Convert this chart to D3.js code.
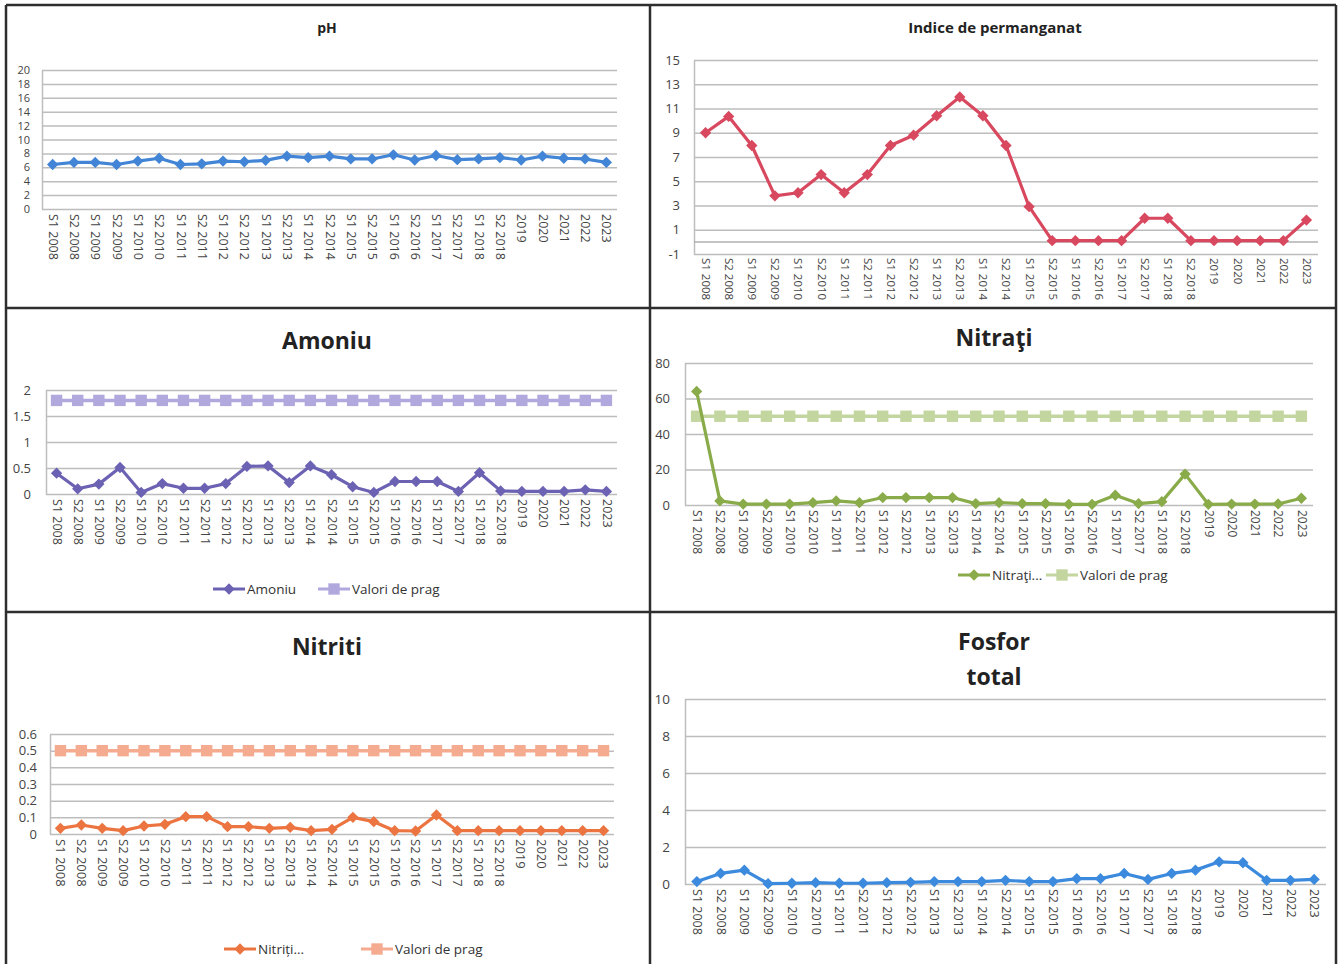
<!DOCTYPE html>
<html>
<head>
<meta charset="utf-8">
<script src="https://cdn.jsdelivr.net/npm/d3@7"></script>
<style>
  body { margin: 0; background: #fff; }
  svg { display: block; font-family: "Open Sans", sans-serif; }
</style>
</head>
<body>
<div id="chart"></div>
<script>
// Categories (semesters / years)
var categories = ["S1 2008", "S2 2008", "S1 2009", "S2 2009", "S1 2010", "S2 2010",
    "S1 2011", "S2 2011", "S1 2012", "S2 2012", "S1 2013", "S2 2013", "S1 2014", "S2 2014",
    "S1 2015", "S2 2015", "S1 2016", "S2 2016", "S1 2017", "S2 2017", "S1 2018", "S2 2018",
    "2019", "2020", "2021", "2022", "2023"];

// Series values
var phValues = [6.4, 6.7, 6.7, 6.4, 6.9, 7.3, 6.4, 6.5, 6.9, 6.8, 7.0, 7.6, 7.4, 7.6,
    7.2, 7.2, 7.8, 7.05, 7.7, 7.1, 7.2, 7.4, 7.05, 7.6, 7.3, 7.2, 6.7];
var permanganatValues = [9.0, 10.35, 7.95, 3.8, 4.05, 5.55, 4.05, 5.55, 7.95, 8.8, 10.4, 11.95,
    10.4, 7.95, 2.9, 0.1, 0.1, 0.1, 0.1, 1.95, 1.95, 0.1, 0.1, 0.1, 0.1, 0.1, 1.8];
var amoniuValues = [0.4, 0.1, 0.19, 0.51, 0.03, 0.2, 0.11, 0.11, 0.2, 0.53, 0.54, 0.22,
    0.54, 0.37, 0.14, 0.03, 0.24, 0.24, 0.24, 0.05, 0.41, 0.06, 0.05, 0.05, 0.05, 0.08, 0.05];
var amoniuPrag = [1.8, 1.8, 1.8, 1.8, 1.8, 1.8, 1.8, 1.8, 1.8, 1.8, 1.8, 1.8, 1.8, 1.8,
    1.8, 1.8, 1.8, 1.8, 1.8, 1.8, 1.8, 1.8, 1.8, 1.8, 1.8, 1.8, 1.8];
var nitratiValues = [64, 2.3, 0.5, 0.5, 0.5, 1.3, 2.3, 1.3, 4.2, 4.2, 4.2, 4.2, 0.8, 1.3,
    0.8, 0.8, 0.4, 0.4, 5.5, 0.8, 1.9, 17.4, 0.4, 0.5, 0.5, 0.6, 3.8];
var nitratiPrag = [50, 50, 50, 50, 50, 50, 50, 50, 50, 50, 50, 50, 50, 50,
    50, 50, 50, 50, 50, 50, 50, 50, 50, 50, 50, 50, 50];
var nitritiValues = [0.034, 0.054, 0.034, 0.02, 0.048, 0.058, 0.104, 0.104, 0.044, 0.044,
    0.034, 0.04, 0.02, 0.028, 0.1, 0.074, 0.02, 0.018, 0.114, 0.02, 0.02, 0.02,
    0.02, 0.02, 0.02, 0.02, 0.02];
var nitritiPrag = [0.5, 0.5, 0.5, 0.5, 0.5, 0.5, 0.5, 0.5, 0.5, 0.5, 0.5, 0.5, 0.5, 0.5,
    0.5, 0.5, 0.5, 0.5, 0.5, 0.5, 0.5, 0.5, 0.5, 0.5, 0.5, 0.5, 0.5];
var fosforValues = [0.13, 0.57, 0.75, 0.02, 0.04, 0.07, 0.04, 0.04, 0.07, 0.09, 0.13, 0.13,
    0.13, 0.2, 0.13, 0.13, 0.29, 0.29, 0.57, 0.25, 0.57, 0.75, 1.2, 1.15, 0.2, 0.2, 0.25];

// Tick labels
var phTicks = [0, 2, 4, 6, 8, 10, 12, 14, 16, 18, 20];
var permanganatTicks = [-1, 1, 3, 5, 7, 9, 11, 13, 15];
var amoniuTicks = [0, 0.5, 1, 1.5, 2];
var nitratiTicks = [0, 20, 40, 60, 80];
var nitritiTicks = [0, 0.1, 0.2, 0.3, 0.4, 0.5, 0.6];
var fosforTicks = [0, 2, 4, 6, 8, 10];

var svg = d3.select("#chart").append("svg")
    .attr("width", 1339)
    .attr("height", 964);

// Diamond = rotated square, like the spreadsheet markers
var diamond = d3.symbol().type(d3.symbolSquare).size(64);
var square = d3.symbol().type(d3.symbolSquare).size(130);

function drawPanel(o) {
    var g = svg.append("g");

    var x = d3.scalePoint().domain(categories).range([o.left, o.right]).padding(0.5);
    var y = d3.scaleLinear().domain(o.domain).range([o.bottom, o.top]);

    // Title
    o.title.forEach(function (t, i) {
        g.append("text")
            .attr("x", o.titleX)
            .attr("y", o.titleY + i * o.titleGap)
            .attr("dy", "0.35em")
            .attr("text-anchor", "middle")
            .attr("font-weight", "bold")
            .attr("font-size", o.titleSize)
            .attr("fill", "#222")
            .text(t);
    });

    // Y axis with gridlines
    var yAxis = g.append("g")
        .attr("transform", "translate(" + o.left + ",0)")
        .call(d3.axisLeft(y)
            .tickValues(o.ticks)
            .tickSize(-(o.right - o.left))
            .tickSizeOuter(0)
            .tickPadding(o.tickPad)
            .tickFormat(function (d) { return String(d); }));
    yAxis.select(".domain").attr("stroke", "#bdbdbd").attr("stroke-width", 1.5);
    yAxis.selectAll(".tick line").attr("stroke", "#bdbdbd").attr("stroke-width", 1.5);
    yAxis.selectAll(".tick text")
        .attr("font-size", o.tickSize)
        .attr("fill", "#444")
        .style("font-family", "'Open Sans', sans-serif");

    // Zero line when the axis starts below zero
    if (o.domain[0] < 0) {
        g.append("line")
            .attr("x1", o.left).attr("x2", o.right)
            .attr("y1", y(0)).attr("y2", y(0))
            .attr("stroke", "#b0b0b0").attr("stroke-width", 1.5);
    }

    // Category labels, rotated
    var xAxis = g.append("g")
        .attr("transform", "translate(0," + o.bottom + ")")
        .call(d3.axisBottom(x).tickSize(0).tickSizeOuter(0));
    xAxis.select(".domain").remove();
    xAxis.selectAll(".tick text")
        .attr("transform", "rotate(90)")
        .attr("text-anchor", "start")
        .attr("x", o.catPad)
        .attr("y", 0)
        .attr("dy", "0.35em")
        .attr("font-size", o.catSize)
        .attr("fill", "#444")
        .style("font-family", "'Open Sans', sans-serif");

    var line = d3.line()
        .x(function (d, i) { return x(categories[i]); })
        .y(function (d) { return y(d); });

    // Threshold series first, main series on top
    if (o.prag) {
        g.append("path")
            .attr("d", line(o.prag))
            .attr("fill", "none")
            .attr("stroke", o.pragColor)
            .attr("stroke-width", 3.5);
        g.selectAll(".prag")
            .data(o.prag)
            .join("path")
            .attr("transform", function (d, i) { return "translate(" + x(categories[i]) + "," + y(d) + ")"; })
            .attr("d", square)
            .attr("fill", o.pragColor);
    }

    g.append("path")
        .attr("d", line(o.values))
        .attr("fill", "none")
        .attr("stroke", o.color)
        .attr("stroke-width", 3.2)
        .attr("stroke-linejoin", "round");
    g.selectAll(".pt")
        .data(o.values)
        .join("path")
        .attr("transform", function (d, i) { return "translate(" + x(categories[i]) + "," + y(d) + ") rotate(45)"; })
        .attr("d", diamond)
        .attr("fill", o.color);

    // Legend
    if (o.legend) {
        o.legend.forEach(function (item) {
            var lg = g.append("g").attr("transform", "translate(" + item.x + "," + o.legendY + ")");
            lg.append("line")
                .attr("x1", 0).attr("x2", 32)
                .attr("stroke", item.color).attr("stroke-width", 3);
            lg.append("path")
                .attr("transform", "translate(16,0)" + (item.shape === "diamond" ? " rotate(45)" : ""))
                .attr("d", item.shape === "diamond" ? diamond : square)
                .attr("fill", item.color);
            lg.append("text")
                .attr("x", 34)
                .attr("dy", "0.35em")
                .attr("font-size", 13.5)
                .attr("fill", "#333")
                .text(item.label);
        });
    }
}

drawPanel({
    title: ["pH"], titleX: 327, titleY: 28, titleSize: 14, titleGap: 0,
    left: 42, right: 617, top: 70, bottom: 209,
    domain: [0, 20], ticks: phTicks, tickPad: 12, tickSize: 11,
    catPad: 5, catSize: 12.5,
    values: phValues, color: "#4285d6"
});

drawPanel({
    title: ["Indice de permanganat"], titleX: 995, titleY: 28, titleSize: 15, titleGap: 0,
    left: 694, right: 1318, top: 60, bottom: 254,
    domain: [-1, 15], ticks: permanganatTicks, tickPad: 14, tickSize: 13,
    catPad: 4, catSize: 11.5,
    values: permanganatValues, color: "#d8485f"
});

drawPanel({
    title: ["Amoniu"], titleX: 327, titleY: 341, titleSize: 23, titleGap: 0,
    left: 46, right: 617, top: 390, bottom: 494,
    domain: [0, 2], ticks: amoniuTicks, tickPad: 15, tickSize: 13,
    catPad: 5, catSize: 12.5,
    values: amoniuValues, color: "#6c62b3",
    prag: amoniuPrag, pragColor: "#b1a9de",
    legendY: 589,
    legend: [
        { x: 213, label: "Amoniu", color: "#6c62b3", shape: "diamond" },
        { x: 318, label: "Valori de prag", color: "#b1a9de", shape: "square" }
    ]
});

drawPanel({
    title: ["Nitraţi"], titleX: 994, titleY: 338, titleSize: 23, titleGap: 0,
    left: 685, right: 1313, top: 363, bottom: 505,
    domain: [0, 80], ticks: nitratiTicks, tickPad: 15, tickSize: 13,
    catPad: 5, catSize: 12,
    values: nitratiValues, color: "#8aab4a",
    prag: nitratiPrag, pragColor: "#c4d6a0",
    legendY: 575,
    legend: [
        { x: 958, label: "Nitraţi...", color: "#8aab4a", shape: "diamond" },
        { x: 1046, label: "Valori de prag", color: "#c4d6a0", shape: "square" }
    ]
});

drawPanel({
    title: ["Nitriti"], titleX: 327, titleY: 647, titleSize: 23, titleGap: 0,
    left: 50, right: 614, top: 734, bottom: 834,
    domain: [0, 0.6], ticks: nitritiTicks, tickPad: 13, tickSize: 13,
    catPad: 5, catSize: 13,
    values: nitritiValues, color: "#ec7440",
    prag: nitritiPrag, pragColor: "#f5ab90",
    legendY: 949,
    legend: [
        { x: 224, label: "Nitriți...", color: "#ec7440", shape: "diamond" },
        { x: 361, label: "Valori de prag", color: "#f5ab90", shape: "square" }
    ]
});

drawPanel({
    title: ["Fosfor", "total"], titleX: 994, titleY: 642, titleSize: 23, titleGap: 35,
    left: 685, right: 1326, top: 699, bottom: 884,
    domain: [0, 10], ticks: fosforTicks, tickPad: 15, tickSize: 13.5,
    catPad: 5, catSize: 12.5,
    values: fosforValues, color: "#3b8ade"
});

// Page frame of the scanned table
var frame = svg.append("g")
    .attr("stroke", "#2e2e2e")
    .attr("stroke-width", 2.5)
    .attr("fill", "none");
frame.append("line").attr("x1", 6).attr("x2", 1336).attr("y1", 5).attr("y2", 5);
frame.append("line").attr("x1", 6).attr("x2", 6).attr("y1", 5).attr("y2", 964);
frame.append("line").attr("x1", 1336).attr("x2", 1336).attr("y1", 5).attr("y2", 964);
frame.append("line").attr("x1", 650).attr("x2", 650).attr("y1", 5).attr("y2", 964);
frame.append("line").attr("x1", 6).attr("x2", 1336).attr("y1", 308).attr("y2", 308);
frame.append("line").attr("x1", 6).attr("x2", 1336).attr("y1", 612).attr("y2", 612);
</script>
</body>
</html>
